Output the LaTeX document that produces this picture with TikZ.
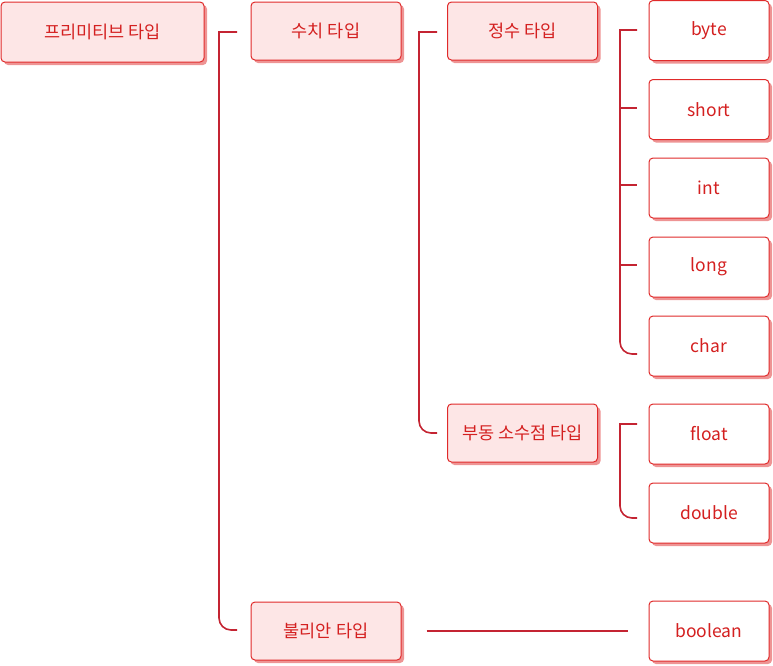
\documentclass[tikz,border=0pt]{standalone}
\usepackage{fontspec}
\setmainfont{Noto Sans CJK KR}
\usetikzlibrary{shadows}
\definecolor{bordr}{HTML}{E02A2A}
\definecolor{pinkfill}{HTML}{FDE6E6}
\definecolor{shad}{HTML}{EE9494}
\definecolor{txt}{HTML}{D42020}
\definecolor{linec}{HTML}{C42432}
\tikzset{
  x=1pt, y=-1pt,
  basebox/.style={draw=bordr, line width=1pt, rounded corners=4pt, text=txt,
    font=\fontsize{17.5}{20}\selectfont, inner sep=0pt,
    drop shadow={shadow xshift=3pt, shadow yshift=-3pt, fill=shad, opacity=1}},
  catbox/.style={basebox, fill=pinkfill, minimum width=150pt, minimum height=58pt},
  leafbox/.style={basebox, fill=white, minimum width=120pt, minimum height=60pt},
  conn/.style={draw=linec, line width=1.6pt}
}
\begin{document}
\begin{tikzpicture}
\useasboundingbox (0,0) rectangle (773,665);
\node[catbox, minimum width=203pt, minimum height=60pt] (prim) at (102.5,32) {프리미티브 타입};
\node[catbox] (num) at (326,31) {수치 타입};
\node[catbox] (int) at (522.5,31) {정수 타입};
\node[catbox] (flt) at (522.5,433) {부동 소수점 타입};
\node[catbox] (bool) at (326,631) {불리안 타입};
\node[leafbox] (byte) at (709,30.5) {byte};
\node[leafbox] (short) at (709,109.5) {short};
\node[leafbox] (intt) at (709,188) {int};
\node[leafbox] (long) at (709,267) {long};
\node[leafbox] (char) at (709,346) {char};
\node[leafbox] (float) at (709,434) {float};
\node[leafbox] (double) at (709,513) {double};
\node[leafbox] (boolean) at (709,631) {boolean};
% bracket from primitive
\coordinate (p1) at (237,32);
\coordinate (p2) at (237,630);
\draw[conn] (p1) -- (219,32) -- (219,300) [rounded corners=12pt] -- (219,630) -- (p2);
% bracket from numeric
\coordinate (n1) at (437,32);
\coordinate (n2) at (437,433);
\draw[conn] (n1) -- (419,32) -- (419,250) [rounded corners=12pt] -- (419,433) -- (n2);
% integer bracket
\coordinate (i1) at (637,30);
\coordinate (i5) at (637,354);
\draw[conn] (i1) -- (620,30) -- (620,200) [rounded corners=12pt] -- (620,354) -- (i5);
\draw[conn] (620,108) -- (637,108);
\draw[conn] (620,185) -- (637,185);
\draw[conn] (620,265) -- (637,265);
% float bracket
\coordinate (f1) at (637,424);
\coordinate (f2) at (637,518);
\draw[conn] (f1) -- (620,424) -- (620,470) [rounded corners=12pt] -- (620,518) -- (f2);
% boolean line
\draw[conn] ([xshift=25pt]bool.east) -- ([xshift=-21pt]boolean.west);
\end{tikzpicture}
\end{document}
